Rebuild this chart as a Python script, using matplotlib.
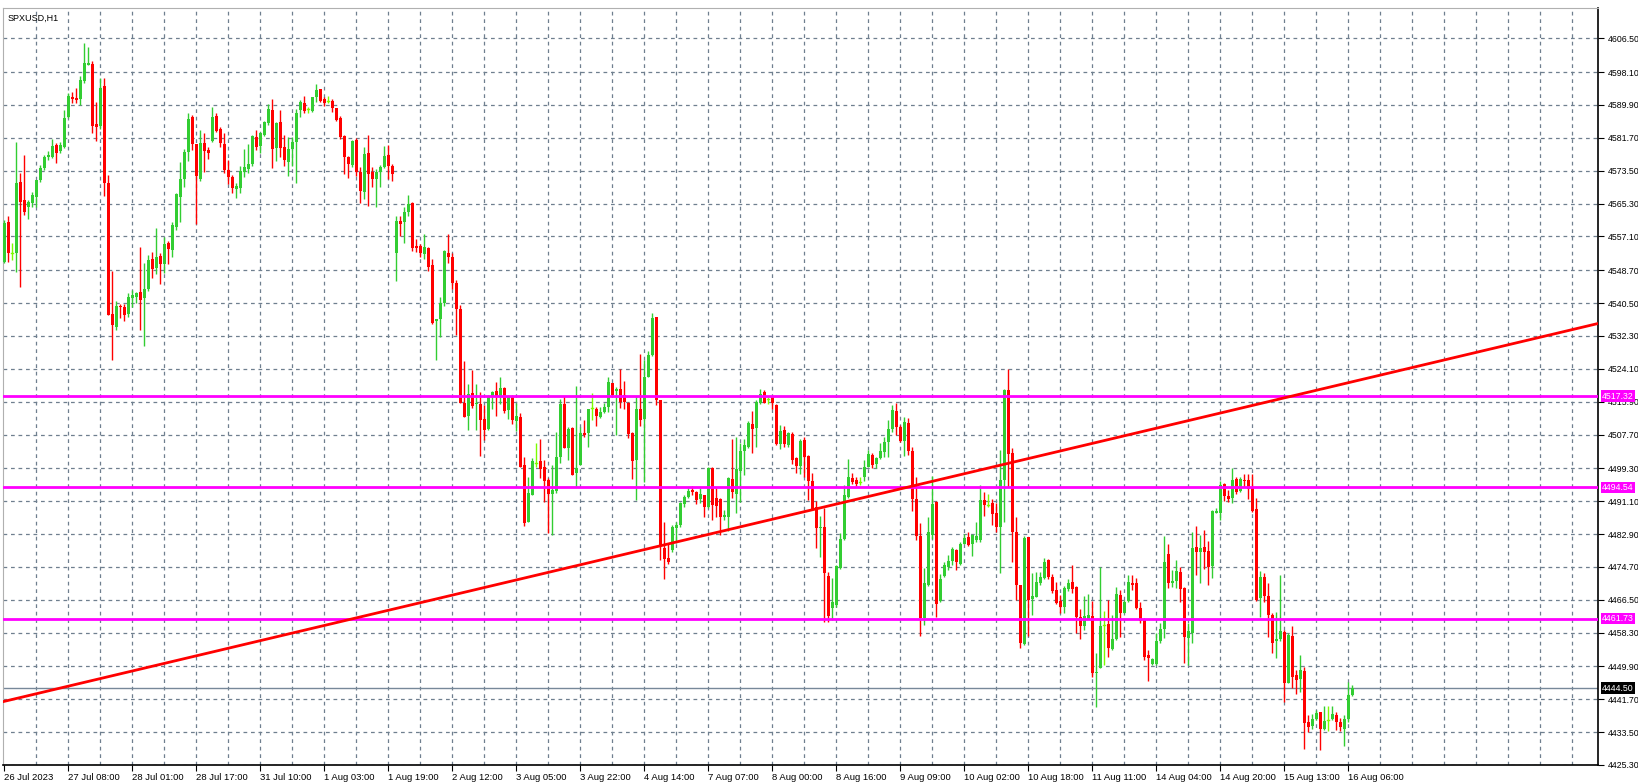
import matplotlib
matplotlib.use("Agg")
import matplotlib.pyplot as plt
import matplotlib.transforms as mtransforms

plt.rcParams['font.family'] = ['Liberation Sans', 'DejaVu Sans']

# ---- data (OHLC per H1 bar) ----
opens = [4550.8,4560.6,4553.0,4553.1,4570.7,4566.2,4564.5,4565.4,4567.0,4571.2,
4574.1,4576.8,4577.0,4579.9,4578.3,4579.5,4586.8,4591.8,4591.6,4591.5,
4595.9,4599.9,4600.1,4585.2,4584.7,4594.6,4570.5,4537.8,4534.6,4539.8,
4539.6,4537.8,4541.7,4542.1,4543.3,4541.7,4543.9,4551.6,4549.2,4552.2,
4550.2,4555.6,4553.7,4559.4,4567.0,4571.4,4578.2,4587.0,4580.2,4571.4,
4580.5,4578.7,4581.0,4587.2,4583.9,4580.2,4573.7,4572.0,4569.0,4569.3,
4573.3,4574.0,4575.2,4582.0,4579.7,4582.4,4585.3,4588.7,4579.2,4585.7,
4579.5,4575.8,4578.9,4580.7,4588.7,4590.3,4588.8,4588.5,4591.8,4593.9,
4591.4,4590.9,4590.9,4589.2,4586.7,4582.2,4576.8,4574.9,4581.2,4573.3,
4568.3,4577.9,4573.2,4571.5,4573.3,4574.4,4577.4,4574.7,4552.9,4561.0,
4560.6,4563.1,4565.4,4554.7,4554.7,4552.7,4554.3,4550.0,4536.1,4536.4,
4540.4,4552.9,4552.0,4545.6,4538.9,4515.7,4512.3,4518.0,4515.4,4515.3,
4511.5,4509.0,4517.0,4518.6,4517.0,4519.2,4513.8,4517.3,4511.2,4512.2,
4500.1,4486.0,4492.6,4500.7,4501.1,4499.5,4496.4,4492.9,4493.7,4502.0,
4515.3,4504.3,4509.4,4498.2,4500.1,4508.2,4508.0,4514.3,4514.1,4512.0,
4513.3,4514.7,4520.5,4518.6,4519.1,4517.5,4515.7,4508.0,4501.4,4514.0,
4511.7,4522.1,4527.5,4536.9,4516.2,4479.5,4476.8,4478.9,4484.3,4485.2,
4490.3,4492.2,4493.9,4493.3,4491.6,4492.6,4489.6,4499.4,4491.8,4491.6,
4487.1,4487.1,4496.5,4493.0,4498.7,4503.6,4504.7,4510.3,4509.4,4515.5,
4518.2,4516.5,4517.2,4515.1,4505.3,4508.8,4505.1,4507.8,4501.9,4499.9,
4506.3,4502.4,4496.1,4489.7,4484.3,4484.7,4472.4,4464.4,4465.2,4474.5,
4481.6,4492.2,4496.8,4496.4,4495.9,4497.2,4499.7,4502.6,4500.4,4501.9,
4503.4,4505.9,4509.1,4513.7,4509.5,4506.2,4510.7,4503.6,4491.6,4482.4,
4461.9,4470.2,4482.7,4490.8,4466.3,4472.4,4474.8,4476.2,4478.9,4475.4,
4480.4,4482.1,4480.4,4481.4,4481.3,4491.4,4490.2,4490.6,4488.1,4484.7,
4496.4,4518.8,4503.2,4483.3,4470.2,4455.5,4482.1,4466.6,4467.3,4470.8,
4471.9,4476.3,4472.1,4468.9,4466.3,4464.6,4469.3,4471.0,4469.8,4462.3,
4460.0,4461.8,4462.5,4448.2,4449.6,4460.2,4460.5,4454.2,4456.6,4467.7,
4463.3,4466.2,4470.6,4470.6,4464.4,4461.6,4452.7,4450.5,4450.5,4456.1,
4459.1,4477.9,4470.6,4471.3,4473.4,4469.4,4456.9,4458.2,4479.6,4478.4,
4479.6,4478.7,4474.9,4488.2,4488.1,4495.4,4492.4,4492.0,4496.6,4493.6,
4496.4,4496.4,4494.5,4489.1,4466.9,4472.1,4467.5,4462.7,4456.1,4456.7,
4458.4,4445.8,4457.5,4447.7,4446.7,4448.7,4436.1,4435.1,4436.7,4438.4,
4434.4,4436.5,4436.8,4437.8,4435.9,4434.4,4436.7,4442.8]

closes = [4560.4,4553.1,4553.1,4570.5,4565.8,4563.1,4565.8,4567.5,4571.2,4574.1,
4576.8,4577.5,4579.7,4578.0,4579.9,4586.7,4592.1,4591.3,4591.2,4596.1,
4600.4,4600.4,4584.7,4584.5,4594.1,4570.5,4537.5,4535.0,4539.8,4539.4,
4537.5,4541.9,4542.5,4543.1,4541.3,4543.9,4551.2,4549.1,4551.9,4550.2,
4555.2,4553.9,4560.0,4567.7,4571.4,4578.2,4586.4,4580.2,4572.2,4580.3,
4578.3,4578.0,4586.8,4583.5,4580.3,4573.7,4572.0,4569.3,4569.7,4573.4,
4574.5,4575.2,4582.2,4579.5,4583.0,4585.7,4589.0,4579.0,4585.3,4579.1,
4576.2,4578.9,4580.7,4587.9,4590.6,4588.5,4588.9,4591.8,4593.6,4590.9,
4590.5,4591.0,4589.2,4586.2,4582.0,4576.8,4575.2,4580.9,4573.3,4568.5,
4577.7,4572.7,4571.4,4573.3,4574.5,4577.2,4574.8,4572.6,4561.0,4560.2,
4563.1,4565.2,4554.3,4554.2,4552.9,4554.6,4549.6,4535.5,4536.4,4540.4,
4553.6,4552.1,4545.6,4538.9,4515.7,4512.2,4517.8,4514.8,4515.7,4511.3,
4508.8,4517.0,4518.3,4517.0,4519.2,4513.7,4517.2,4511.3,4512.3,4499.7,
4485.7,4493.2,4501.2,4500.8,4499.1,4496.0,4492.9,4494.0,4502.0,4515.3,
4504.3,4509.2,4497.6,4499.3,4508.0,4507.5,4514.1,4514.4,4512.3,4513.3,
4514.7,4520.8,4517.6,4519.0,4515.8,4515.9,4507.8,4501.2,4514.0,4511.3,
4522.1,4527.5,4536.7,4516.3,4479.8,4476.6,4475.8,4484.6,4485.2,4490.7,
4492.2,4493.7,4493.5,4491.4,4492.8,4489.7,4499.4,4490.1,4490.0,4487.1,
4487.6,4496.9,4493.3,4499.1,4503.6,4505.1,4510.5,4509.1,4515.9,4517.8,
4515.7,4516.6,4515.5,4505.3,4508.6,4505.3,4508.0,4501.4,4499.9,4506.1,
4502.0,4496.2,4489.1,4484.3,4484.7,4473.3,4462.5,4465.9,4475.0,4481.7,
4492.6,4497.0,4495.9,4495.5,4496.0,4499.7,4502.9,4500.1,4501.9,4503.6,
4505.9,4509.1,4513.8,4509.7,4506.2,4510.9,4503.7,4491.6,4482.4,4461.9,
4470.6,4483.4,4490.4,4465.5,4471.7,4475.2,4476.2,4479.1,4476.0,4480.4,
4481.8,4480.1,4482.7,4482.4,4491.4,4490.1,4490.4,4487.9,4484.6,4496.4,
4518.8,4502.9,4483.3,4470.2,4455.7,4481.8,4466.5,4467.5,4471.0,4472.1,
4475.8,4472.1,4468.8,4465.8,4464.6,4469.4,4470.6,4469.3,4462.3,4460.0,
4462.5,4462.6,4448.2,4448.6,4460.0,4460.4,4454.4,4456.7,4467.9,4463.3,
4466.0,4470.9,4470.2,4464.4,4461.1,4452.3,4451.9,4451.7,4456.2,4459.3,
4475.8,4470.6,4471.3,4473.8,4469.1,4457.1,4458.6,4479.3,4478.3,4479.3,
4478.3,4474.6,4488.7,4488.7,4495.1,4492.5,4491.6,4496.4,4493.5,4496.5,
4496.0,4494.1,4488.7,4466.5,4472.3,4467.5,4462.7,4455.8,4456.7,4458.7,
4445.7,4457.7,4447.3,4446.5,4449.0,4435.7,4434.9,4436.7,4438.2,4434.4,
4436.3,4436.6,4438.0,4435.9,4434.9,4436.7,4442.8,4444.5]

highs = [4561.2,4562.2,4555.4,4580.7,4572.9,4577.4,4566.2,4568.2,4571.2,4574.9,
4577.4,4578.3,4581.4,4580.3,4580.7,4588.7,4592.8,4593.2,4594.1,4597.1,
4605.4,4604.4,4600.9,4590.7,4596.7,4596.6,4572.4,4548.6,4540.9,4540.3,
4540.3,4543.1,4543.8,4543.3,4554.4,4550.4,4552.5,4553.2,4559.2,4553.1,
4556.9,4556.1,4560.7,4567.9,4575.7,4578.9,4587.8,4587.3,4580.2,4583.7,
4583.0,4579.5,4589.3,4587.8,4584.3,4582.8,4576.2,4572.4,4570.5,4574.7,
4578.9,4580.2,4582.4,4583.7,4583.2,4586.0,4590.2,4591.4,4585.7,4588.7,
4582.3,4581.8,4581.9,4588.8,4591.1,4592.1,4589.5,4592.0,4595.1,4593.9,
4592.0,4592.1,4591.3,4589.2,4587.2,4582.4,4577.2,4581.2,4581.6,4574.5,
4579.5,4582.4,4574.5,4573.9,4574.9,4579.7,4579.9,4575.1,4562.1,4562.1,
4564.4,4567.5,4565.8,4556.4,4555.2,4557.6,4554.6,4551.5,4536.5,4542.1,
4553.7,4557.7,4553.0,4546.2,4540.0,4526.1,4520.3,4523.8,4520.3,4518.2,
4515.1,4517.6,4518.6,4520.9,4522.1,4519.5,4517.6,4517.6,4515.7,4513.0,
4502.2,4497.2,4501.8,4505.5,4506.5,4501.4,4496.8,4500.1,4508.4,4516.5,
4517.4,4509.7,4509.7,4519.8,4509.7,4511.3,4514.2,4518.0,4514.6,4514.6,
4515.5,4522.0,4520.6,4519.5,4524.0,4521.1,4515.9,4508.4,4517.4,4527.8,
4526.3,4528.6,4538.0,4537.1,4516.3,4485.8,4480.6,4485.2,4486.0,4491.0,
4492.6,4494.5,4494.9,4493.7,4494.3,4492.6,4499.7,4499.5,4494.3,4491.8,
4488.9,4497.2,4506.5,4507.2,4505.5,4506.5,4511.2,4513.6,4516.2,4519.1,
4518.8,4517.0,4517.6,4515.3,4510.1,4509.8,4508.4,4508.4,4502.2,4506.5,
4507.0,4502.6,4498.0,4491.2,4487.4,4489.3,4473.5,4471.9,4475.2,4483.1,
4495.1,4501.5,4498.0,4497.2,4497.2,4501.4,4503.9,4503.2,4502.2,4505.7,
4507.2,4511.3,4515.1,4515.7,4510.1,4512.0,4511.8,4504.7,4497.0,4485.7,
4474.5,4487.2,4497.4,4491.1,4472.9,4475.8,4477.7,4479.7,4479.1,4480.8,
4482.9,4483.3,4482.8,4486.0,4495.1,4493.5,4492.9,4491.6,4490.6,4503.9,
4519.0,4524.0,4504.3,4487.2,4470.2,4482.3,4482.2,4473.1,4473.5,4473.5,
4476.8,4476.6,4472.9,4471.0,4467.7,4469.9,4471.6,4475.1,4469.9,4464.1,
4467.5,4467.9,4466.3,4453.2,4474.6,4463.7,4466.5,4462.6,4469.6,4468.9,
4466.5,4472.7,4472.7,4471.9,4466.0,4461.9,4454.0,4451.9,4458.2,4460.6,
4482.4,4480.4,4473.9,4476.4,4474.8,4469.6,4460.8,4483.3,4484.9,4482.7,
4483.9,4481.2,4488.9,4489.3,4496.1,4495.7,4493.9,4499.3,4497.0,4497.0,
4497.9,4497.9,4497.9,4491.8,4473.7,4473.1,4470.6,4463.3,4463.5,4472.7,
4459.0,4458.3,4460.0,4449.0,4452.7,4449.8,4437.8,4437.9,4439.0,4438.6,
4440.0,4439.9,4440.0,4438.4,4436.9,4437.8,4446.1,4445.3]

lows = [4550.4,4550.8,4551.2,4548.3,4544.6,4562.5,4561.5,4564.5,4564.5,4570.8,
4573.7,4576.2,4576.6,4575.5,4577.9,4579.1,4586.6,4590.3,4590.3,4589.9,
4595.3,4599.9,4583.0,4580.8,4583.8,4567.3,4537.4,4526.3,4533.8,4536.7,
4536.0,4536.9,4539.6,4540.6,4533.8,4529.8,4543.6,4546.7,4547.8,4545.3,
4548.1,4550.3,4551.9,4558.6,4560.8,4569.5,4576.0,4578.7,4560.2,4571.0,
4573.3,4576.5,4580.7,4583.2,4579.3,4573.0,4570.2,4568.0,4566.8,4568.0,
4572.0,4573.0,4574.8,4578.7,4578.0,4582.2,4585.0,4574.3,4576.0,4576.9,
4574.8,4572.3,4574.8,4570.5,4587.0,4588.0,4587.8,4588.2,4590.7,4590.6,
4589.7,4590.3,4588.2,4585.8,4581.3,4572.7,4571.8,4574.5,4572.3,4565.5,
4566.4,4564.8,4569.5,4564.5,4569.5,4574.1,4571.5,4570.9,4546.1,4557.2,
4555.6,4562.2,4553.6,4553.3,4552.1,4551.4,4548.6,4535.3,4526.3,4532.0,
4539.8,4550.6,4544.0,4532.5,4515.5,4512.2,4508.8,4514.3,4508.8,4502.4,
4506.3,4508.8,4514.0,4512.3,4515.3,4513.2,4511.5,4510.3,4508.7,4499.5,
4484.9,4486.0,4492.6,4499.7,4496.8,4491.0,4483.2,4482.7,4493.1,4500.7,
4504.3,4501.4,4497.6,4494.7,4500.0,4507.2,4504.7,4511.3,4509.8,4511.8,
4513.0,4513.4,4517.2,4507.5,4514.3,4514.0,4506.8,4496.6,4491.4,4509.9,
4495.9,4522.0,4527.3,4515.1,4476.3,4471.6,4475.4,4478.5,4480.6,4484.7,
4489.7,4492.0,4492.6,4490.3,4490.6,4487.2,4489.3,4486.4,4487.2,4482.7,
4486.4,4483.7,4491.8,4488.1,4491.0,4497.6,4504.3,4503.0,4504.5,4515.3,
4515.5,4515.3,4514.0,4505.1,4504.1,4504.7,4504.7,4500.4,4498.2,4497.9,
4497.2,4491.5,4488.9,4479.3,4477.2,4461.0,4461.0,4461.5,4464.8,4474.3,
4481.4,4491.8,4495.4,4494.9,4495.1,4496.0,4499.5,4499.3,4499.3,4501.6,
4502.0,4502.0,4508.4,4507.6,4505.9,4502.4,4502.6,4488.7,4481.3,4457.5,
4460.2,4469.9,4481.6,4462.1,4466.0,4472.1,4473.9,4475.2,4474.0,4475.2,
4480.3,4479.9,4477.3,4481.0,4481.0,4487.4,4489.7,4485.1,4483.3,4473.3,
4486.0,4494.7,4476.0,4466.5,4454.4,4455.2,4457.5,4462.7,4467.1,4470.2,
4471.6,4471.8,4468.1,4465.5,4463.3,4463.1,4468.8,4468.1,4458.1,4456.7,
4459.0,4461.6,4447.2,4439.7,4449.6,4450.2,4452.3,4454.0,4456.5,4457.1,
4463.1,4466.0,4469.0,4464.1,4460.8,4451.5,4446.3,4450.2,4450.2,4455.7,
4456.9,4469.4,4469.8,4469.4,4466.0,4450.8,4450.3,4455.8,4472.7,4470.8,
4474.2,4470.2,4471.9,4488.1,4486.4,4491.2,4491.0,4490.7,4493.0,4493.5,
4494.7,4491.6,4488.5,4466.3,4462.3,4466.0,4457.1,4453.3,4451.9,4456.1,
4441.1,4445.7,4444.4,4443.0,4443.6,4429.2,4433.6,4434.3,4436.4,4429.0,
4434.0,4433.9,4436.5,4434.0,4433.8,4430.0,4435.9,4442.5]

price_ticks = [4606.50, 4598.10, 4589.90, 4581.70, 4573.50, 4565.30, 4557.10,
               4548.70, 4540.50, 4532.30, 4524.10, 4515.90, 4507.70, 4499.30,
               4491.10, 4482.90, 4474.70, 4466.50, 4458.30, 4449.90, 4441.70,
               4433.50, 4425.30]
time_labels = ["26 Jul 2023", "27 Jul 08:00", "28 Jul 01:00", "28 Jul 17:00",
               "31 Jul 10:00", "1 Aug 03:00", "1 Aug 19:00", "2 Aug 12:00",
               "3 Aug 05:00", "3 Aug 22:00", "4 Aug 14:00", "7 Aug 07:00",
               "8 Aug 00:00", "8 Aug 16:00", "9 Aug 09:00", "10 Aug 02:00",
               "10 Aug 18:00", "11 Aug 11:00", "14 Aug 04:00", "14 Aug 20:00",
               "15 Aug 13:00", "16 Aug 06:00"]
hlines = [4517.32, 4494.54, 4461.73]
current_price = 4444.50
trend_x = [-0.25, 398.5]
trend_y = [4441.1, 4535.4]
title = "SPXUSD,H1"

# ---- figure ----
W, H = 1638, 784
fig = plt.figure(figsize=(W/100, H/100), dpi=100)
fig.patch.set_facecolor("white")
TOP, BOT = 8, 765
ax = fig.add_axes([3/W, (H-BOT)/H, 1595/W, (BOT-TOP)/H])
ax.set_xlim(-0.25, 398.5)
ax.set_ylim(4606.5 - (BOT - 38.4)/4.01, 4606.5 - (TOP - 38.4)/4.01)

GRID = "#6f7f8f"
for p in price_ticks:
    ax.axhline(p, color=GRID, lw=0.9, ls=(0, (3, 3)), zorder=0)
for i in range(8, 399, 8):
    ax.axvline(i, color=GRID, lw=0.9, ls=(0, (3, 3)), zorder=0)

GREEN, RED, LIME = "#32cd32", "#ff0000", "#7cfc00"
n = len(closes)
for i in range(n):
    o, c, h, l = opens[i], closes[i], highs[i], lows[i]
    if abs(c - o) < 0.25:
        col = LIME
    else:
        col = GREEN if c > o else RED
    ax.plot([i, i], [l, h], color=col, lw=1.0, zorder=3, solid_capstyle="butt")
    lo, hi = min(o, c), max(o, c)
    if hi - lo < 0.25:
        ax.plot([i - 0.35, i + 0.35], [o, o], color=col, lw=1.0, zorder=4)
    else:
        ax.bar(i, hi - lo, bottom=lo, width=0.75, color=col, lw=0, zorder=4)

for lv in hlines:
    ax.axhline(lv, color="#ff00ff", lw=2, zorder=5)
ax.axhline(current_price, color="#778899", lw=1, zorder=2)
ax.plot(trend_x, trend_y, color="#ff0000", lw=2, zorder=6)

for s in ["top", "left"]:
    ax.spines[s].set_color("#b0b0b0")
for s in ["right", "bottom"]:
    ax.spines[s].set_color("black")
    ax.spines[s].set_linewidth(1.2)
ax.yaxis.tick_right()
ax.set_yticks(price_ticks)
ax.set_yticklabels([f"{p:.2f}" for p in price_ticks], fontsize=6.3, color="black")
ax.tick_params(axis="y", length=4, width=0.8, pad=3)
xt = [16 * k for k in range(len(time_labels))]
ax.set_xticks(xt)
ax.set_xticklabels(time_labels, fontsize=6.8, ha="left")
ax.tick_params(axis="x", length=4, width=0.8, pad=2)

trans = mtransforms.blended_transform_factory(ax.transAxes, ax.transData)
for lv in hlines:
    ax.text(1.0025, lv, f"{lv:.2f}", transform=trans, fontsize=6.3, color="white",
            va="center", ha="left", zorder=10, clip_on=False,
            bbox=dict(boxstyle="square,pad=0.12", fc="#ff00ff", ec="none"))
ax.text(1.0025, current_price, f"{current_price:.2f}", transform=trans, fontsize=6.3,
        color="white", va="center", ha="left", zorder=10, clip_on=False,
        bbox=dict(boxstyle="square,pad=0.12", fc="black", ec="none"))

ax.text(0.003, 0.992, title, transform=ax.transAxes, fontsize=6.5, va="top", ha="left")

fig.savefig("out.png", dpi=100, facecolor="white")
